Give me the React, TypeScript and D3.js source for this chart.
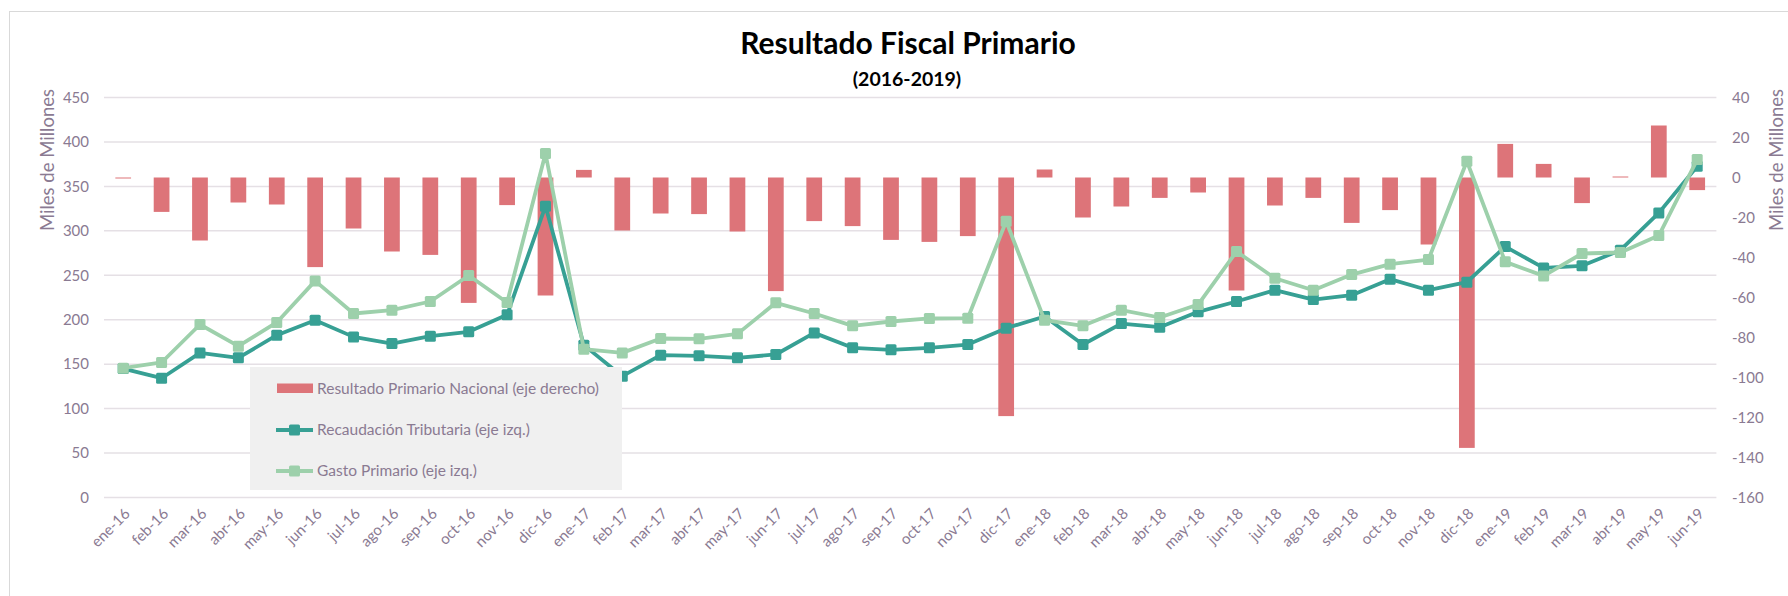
import * as d3 from "d3"

// Monthly data, ene-16 .. jun-19
const months = [
  "ene-16", "feb-16", "mar-16", "abr-16", "may-16", "jun-16", "jul-16", "ago-16", "sep-16", "oct-16", "nov-16", "dic-16",
  "ene-17", "feb-17", "mar-17", "abr-17", "may-17", "jun-17", "jul-17", "ago-17", "sep-17", "oct-17", "nov-17", "dic-17",
  "ene-18", "feb-18", "mar-18", "abr-18", "may-18", "jun-18", "jul-18", "ago-18", "sep-18", "oct-18", "nov-18", "dic-18",
  "ene-19", "feb-19", "mar-19", "abr-19", "may-19", "jun-19",
]

// Resultado Primario Nacional (eje derecho)
const resultado = [
  -0.4, -17.2, -31.5, -12.5, -13.5, -44.8, -25.5, -37, -38.7, -62.7, -13.8, -59,
  3.8, -26.5, -18, -18.3, -27, -56.8, -21.8, -24.3, -31.2, -32.2, -29.3, -119.3,
  4, -20, -14.5, -10.2, -7.5, -56.5, -14, -10.2, -22.7, -16.3, -33.5, -135.2,
  16.8, 6.8, -12.8, 0.5, 26, -6.3,
]

// Recaudación Tributaria (eje izq.)
const recaudacion = [
  145, 134.2, 162.7, 157.1, 182.6, 199.5, 180.7, 173.2, 181.5, 186.4, 205.5, 327.7,
  171.4, 136.5, 160.1, 159.4, 157.1, 160.9, 185.2, 168.4, 166.1, 168.4, 172.1, 190.5,
  203.6, 172.1, 195.7, 191.6, 208.9, 220.5, 233.2, 222.7, 227.6, 245.6, 233.2, 242.2,
  282.3, 258.3, 260.6, 278.2, 320.2, 372.7,
]

// Gasto Primario (eje izq.)
const gasto = [
  145.5, 151.9, 194.6, 170.2, 196.9, 243.7, 207, 210.7, 220.5, 249.7, 219.4, 387,
  166.9, 162.7, 178.9, 178.5, 184.1, 219, 207, 193.1, 198, 201.4, 201.7, 310.8,
  199.5, 193.1, 210.7, 202.5, 217.1, 276.7, 246.7, 233.2, 250.8, 262.5, 267.7, 378.3,
  265.1, 249.3, 274.5, 275.6, 294.7, 380.2,
]

const leftTicks = [0, 50, 100, 150, 200, 250, 300, 350, 400, 450]
const rightTicks = [-160, -140, -120, -100, -80, -60, -40, -20, 0, 20, 40]

const W = 1788
const H = 596
const FONT = "Lato, 'Noto Sans', sans-serif"
const TEXT = "#8a7a92"
const BAR = "#dd7479"
const DARK = "#37a094"
const LIGHT = "#9dd0ab"
const GRID = "#e5e0e5"

export default function App() {
  const x = d3.scaleBand().domain(months).range([104, 1716.4])
  const bw = x.bandwidth()
  const cx = (m: string) => (x(m) || 0) + bw / 2
  const yL = d3.scaleLinear().domain([0, 450]).range([497.5, 97.5])
  const yR = d3.scaleLinear().domain([-160, 40]).range([497.5, 97.5])
  const barW = bw * 0.41

  const lineL = d3
    .line<number>()
    .x((_, i) => cx(months[i]))
    .y((d) => yL(d))

  const marker = 11

  const series = [
    { name: "Recaudación Tributaria (eje izq.)", values: recaudacion, color: DARK },
    { name: "Gasto Primario (eje izq.)", values: gasto, color: LIGHT },
  ]

  return (
    <svg
      width={W}
      height={H}
      style={{ position: "absolute", left: 0, top: 0, fontFamily: FONT }}
    >
      <rect x={0} y={0} width={W} height={H} fill="white" />
      <rect x={9.5} y={11.5} width={W + 20} height={H + 20} fill="none" stroke="#d9d9d9" />

      {/* title */}
      <text x={908} y={53.5} textAnchor="middle" fontSize={30} fontWeight="bold" fill="#000">
        Resultado Fiscal Primario
      </text>
      <text x={907} y={86} textAnchor="middle" fontSize={19.5} fontWeight="bold" fill="#000">
        (2016-2019)
      </text>

      {/* gridlines */}
      {leftTicks.map((t) => (
        <line key={t} x1={104} x2={1716.4} y1={yL(t)} y2={yL(t)} stroke={GRID} strokeWidth={1.5} />
      ))}

      {/* left axis */}
      {leftTicks.map((t) => (
        <text key={t} x={89} y={yL(t)} dy="0.35em" textAnchor="end" fontSize={15} fill={TEXT}>
          {t}
        </text>
      ))}
      <text
        transform={`translate(48,160) rotate(-90)`}
        textAnchor="middle"
        dy="0.35em"
        fontSize={18.5}
        fill={TEXT}
      >
        Miles de Millones
      </text>

      {/* right axis */}
      {rightTicks.map((t) => (
        <text key={t} x={1732} y={yR(t)} dy="0.35em" textAnchor="start" fontSize={15} fill={TEXT}>
          {t}
        </text>
      ))}
      <text
        transform={`translate(1777,160) rotate(-90)`}
        textAnchor="middle"
        dy="0.35em"
        fontSize={18.5}
        fill={TEXT}
      >
        Miles de Millones
      </text>

      {/* x labels */}
      {months.map((m) => (
        <text
          key={m}
          transform={`translate(${cx(m) + 4},${511}) rotate(-45)`}
          textAnchor="end"
          dy="0.35em"
          fontSize={15}
          fill={TEXT}
        >
          {m}
        </text>
      ))}

      {/* bars */}
      {resultado.map((v, i) => (
        <rect
          key={months[i]}
          x={cx(months[i]) - barW / 2}
          y={Math.min(yR(0), yR(v))}
          width={barW}
          height={Math.max(1, Math.abs(yR(v) - yR(0)))}
          fill={BAR}
        />
      ))}

      {/* lines */}
      {series.map((s) => (
        <g key={s.name}>
          <path d={lineL(s.values) || ""} fill="none" stroke={s.color} strokeWidth={3.8} strokeLinejoin="round" />
          {s.values.map((v, i) => (
            <rect
              key={i}
              x={cx(months[i]) - marker / 2}
              y={yL(v) - marker / 2}
              width={marker}
              height={marker}
              rx={1.5}
              fill={s.color}
            />
          ))}
        </g>
      ))}

      {/* legend */}
      <rect x={250} y={367} width={372} height={123} fill="#f0f0f0" />
      <rect x={277} y={383.5} width={36} height={9.5} fill={BAR} />
      <text x={317} y={389} dy="0.35em" fontSize={15.5} fill={TEXT}>
        Resultado Primario Nacional (eje derecho)
      </text>
      {series.map((s, k) => {
        const ly = 430 + k * 41
        return (
          <g key={s.name}>
            <line x1={276} x2={313} y1={ly} y2={ly} stroke={s.color} strokeWidth={3.8} />
            <rect x={294.5 - marker / 2} y={ly - marker / 2} width={marker} height={marker} rx={1.5} fill={s.color} />
            <text x={317} y={ly} dy="0.35em" fontSize={15.5} fill={TEXT}>
              {s.name}
            </text>
          </g>
        )
      })}
    </svg>
  )
}
